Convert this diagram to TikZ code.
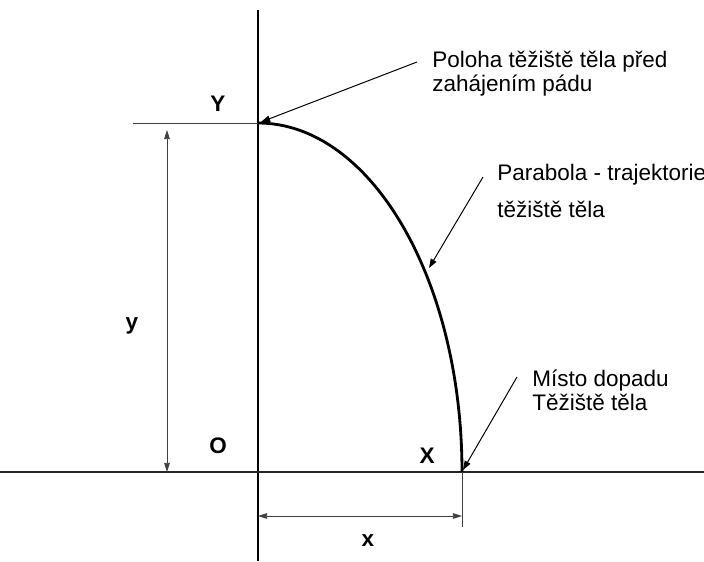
\documentclass[tikz,border=0pt]{standalone}
\usepackage{fontspec}
\setmainfont{Liberation Sans}
\usetikzlibrary{arrows.meta}

\tikzset{
  axis/.style={line width=2pt},
  trajectory/.style={line width=2pt},
  leader/.style={line width=0.7pt, -{Triangle[length=6.5pt, width=4.5pt]}},
  dimline/.style={line width=0.6pt, black!75, {Triangle[length=6.5pt, width=4pt]}-{Triangle[length=6.5pt, width=4pt]}},
  extline/.style={line width=0.7pt, black!75},
  caption/.style={font=\fontsize{16}{16.8}\selectfont, inner sep=0pt, align=left},
  letter/.style={font=\fontsize{16}{17}\selectfont\bfseries, inner sep=0pt}
}

\begin{document}
\begin{tikzpicture}[x=0.025cm, y=-0.025cm]

  \useasboundingbox (0, 0) rectangle (704, 561);

  % -- Key points --
  \coordinate (O) at (258, 472);
  \coordinate (Y) at (258, 123);
  \coordinate (X) at (462, 472);

  % -- Axes --
  \draw[axis] (258, 10) -- (258, 561);
  \draw[axis, line width=1.6pt, black!85] (0, 472) -- (704, 472);

  % -- Trajectory --
  \draw[trajectory] (Y) arc[start angle=-90, end angle=0, x radius=204, y radius=349];

  % -- Dimension y --
  \coordinate (yext) at (133, 123);
  \coordinate (ytop) at (167, 130);
  \coordinate (ybot) at (167, 472);
  \draw[extline] (yext) -- (Y);
  \draw[dimline] (ytop) -- (ybot);
  \node[letter, anchor=base] (ylabel) at (132, 329) {y};

  % -- Dimension x --
  \coordinate (xext) at (462, 527);
  \coordinate (xleft) at (258, 516);
  \coordinate (xright) at (462, 516);
  \draw[extline] (X) -- (xext);
  \draw[dimline] (xleft) -- (xright);
  \node[letter, anchor=base] (xlabel) at (368, 546) {x};

  % -- Axis letters --
  \node[letter, anchor=base] (Ylabel) at (218, 111) {Y};
  \node[letter, anchor=base] (Olabel) at (218, 453) {O};
  \node[letter, anchor=base] (Xlabel) at (427, 463) {X};

  % -- Descriptions (base = last line) --
  \node[caption, anchor=base west] (start) at (432, 91) {Poloha těžiště těla před\\zahájením pádu};
  \node[caption, anchor=base west] (parabola) at (497, 180) {Parabola - trajektorie};
  \node[caption, anchor=base west] (parabola2) at (497, 217) {těžiště těla};
  \node[caption, anchor=base west] (impact) at (532, 410) {Místo dopadu\\Těžiště těla};

  % -- Leaders --
  \coordinate (startfrom) at (417, 62);
  \coordinate (startto) at (261, 122);
  \coordinate (parafrom) at (483, 177);
  \coordinate (parato) at (429, 268);
  \coordinate (impactfrom) at (517, 377);
  \coordinate (impactto) at (463, 470);
  \draw[leader] (startfrom) -- (startto);
  \draw[leader] (parafrom) -- (parato);
  \draw[leader] (impactfrom) -- (impactto);

\end{tikzpicture}
\end{document}
